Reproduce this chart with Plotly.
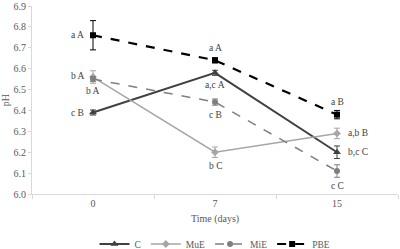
import plotly.graph_objects as go

days = ["0", "7", "15"]
xpos = [0, 1, 2]

c_vals = [6.39, 6.58, 6.20]
c_err = [0.012, 0.012, 0.03]
mue_vals = [6.56, 6.20, 6.29]
mue_err = [0.03, 0.025, 0.025]
mie_vals = [6.55, 6.44, 6.11]
mie_err = [0.012, 0.015, 0.03]
pbe_vals = [6.76, 6.64, 6.38]
pbe_err = [0.07, 0.012, 0.02]

c_labels = ["c B", "a,c A", "b,c C"]
mue_labels = ["b A", "b C", "a,b B"]
mie_labels = ["b A", "c B", "c C"]
pbe_labels = ["a A", "a A", "a B"]

FONT = "Liberation Serif, Times New Roman, serif"

fig = go.Figure()

def add(name, vals, err, color, symbol, dash, width, msize):
    fig.add_trace(go.Scatter(
        x=xpos, y=vals, name=name, mode="lines+markers",
        line=dict(color=color, width=width, dash=dash),
        marker=dict(color=color, symbol=symbol, size=msize),
        error_y=dict(type="data", array=err, visible=True, color=color, thickness=1, width=3),
    ))

add("C", c_vals, c_err, "#404040", "triangle-up", "solid", 2, 7)
add("MuE", mue_vals, mue_err, "#a6a6a6", "diamond", "solid", 1.5, 6)
add("MiE", mie_vals, mie_err, "#7f7f7f", "circle", "dash", 1.5, 6)
add("PBE", pbe_vals, pbe_err, "#000000", "square", "dash", 2.2, 6)

# label offsets (xshift, yshift) in pixels per point
offsets = {
    "C": [(-16, 0), (0, -12), (21, 0)],
    "MuE": [(-15, 1), (0, -14), (21, 0)],
    "MiE": [(0, -12), (0, -13), (0, -15)],
    "PBE": [(-16, 0), (0, 12), (0, 13)],
}
series = [("C", c_vals, c_labels), ("MuE", mue_vals, mue_labels),
          ("MiE", mie_vals, mie_labels), ("PBE", pbe_vals, pbe_labels)]
for name, vals, labels in series:
    for i, (x, v, t) in enumerate(zip(xpos, vals, labels)):
        xs, ys = offsets[name][i]
        fig.add_annotation(x=x, y=v, text=t, showarrow=False, xshift=xs, yshift=ys,
                           font=dict(family=FONT, size=9.5, color="#404040"))

fig.update_layout(
    width=400, height=249,
    margin=dict(l=32, r=2, t=6, b=55, autoexpand=False),
    paper_bgcolor="white", plot_bgcolor="white",
    font=dict(family=FONT, size=10, color="#595959"),
    showlegend=True,
    legend=dict(orientation="h", x=0.5, xanchor="center", y=0.02, yref="container",
                yanchor="middle",
                font=dict(family=FONT, size=9.5, color="#595959"),
                itemwidth=30, tracegroupgap=0),
    xaxis=dict(range=[-0.5, 2.5], tickvals=xpos, ticktext=days, ticks="",
               showgrid=False, zeroline=False, showline=True, linecolor="#d9d9d9", linewidth=1,
               minor=dict(ticks="outside", tick0=-0.5, dtick=1, ticklen=4, tickcolor="#d9d9d9"),
               title=dict(text="Time (days)", standoff=6, font=dict(family=FONT, size=10, color="#595959")),
               tickfont=dict(family=FONT, size=10, color="#595959")),
    yaxis=dict(range=[6.0, 6.9], dtick=0.1, tickformat=".1f", ticks="outside", ticklen=3,
               tickcolor="#d9d9d9", showgrid=False, zeroline=False, showline=True,
               linecolor="#d9d9d9", linewidth=1,
               title=dict(text="pH", standoff=4, font=dict(family=FONT, size=10, color="#595959")),
               tickfont=dict(family=FONT, size=10, color="#595959")),
)

fig.write_html("out.html", config={"displayModeBar": False},
               post_script="document.body.style.margin='0';document.body.style.overflow='hidden';")
